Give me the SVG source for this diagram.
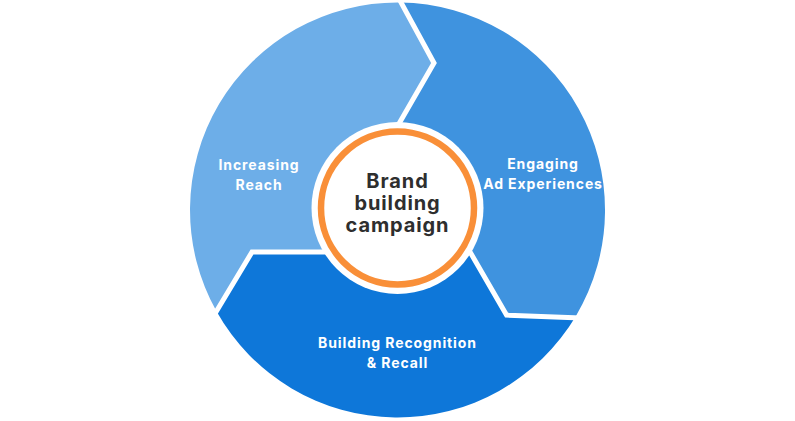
<svg xmlns="http://www.w3.org/2000/svg" width="795" height="421" viewBox="0 0 795 421">
<style>
.lbl{font-family:Inter,"Open Sans","Liberation Sans",sans-serif;font-weight:700;font-size:14px;letter-spacing:0.9px;fill:#ffffff;text-anchor:middle}
.ctr{font-family:Inter,"Open Sans","Liberation Sans",sans-serif;font-weight:700;font-size:20px;letter-spacing:0.9px;fill:#2e2e2e;text-anchor:middle}
.gap{fill:none;stroke:#ffffff;stroke-width:5;stroke-linejoin:miter;stroke-miterlimit:10}
</style>
<rect width="795" height="421" fill="#ffffff"/>
<g id="seg-reach">
<path d="M216.6,311.6 A207.5,207.5 0 0 1 400,2.5 L434,63 L374,167 L397.5,210 L372,252 L252,252 Z" fill="#6DAEE8"/>
<text class="lbl" x="259" y="169.5">Increasing</text>
<text class="lbl" x="259" y="189.5">Reach</text>
</g>
<g id="seg-engaging">
<path d="M400,2.5 A207.5,207.5 0 0 1 575.95,315.9 L506.55,315.1 L446.5,211.2 L397.5,210 L374,167 L434,63 Z" fill="#3F93DF"/>
<text class="lbl" x="543" y="168.5">Engaging</text>
<text class="lbl" x="543" y="189">Ad Experiences</text>
</g>
<g id="seg-recall">
<path d="M575.95,315.9 A207.5,207.5 0 0 1 216.6,311.6 L252,252 L372,252 L397.5,210 L446.5,211.2 L506.55,315.1 Z" fill="#0E77D9"/>
<text class="lbl" x="397.5" y="347.5">Building Recognition</text>
<text class="lbl" x="397.5" y="367.5">&amp; Recall</text>
</g>
<g id="connectors">
<polyline class="gap" points="398.6,-2 434,63 374,167"/>
<polyline class="gap" points="581,318 506.55,315.1 446.5,211.2"/>
<polyline class="gap" points="213,317 252,252 372,252"/>
</g>
<g id="center">
<circle cx="397.5" cy="208" r="86" fill="#ffffff"/>
<circle cx="397.5" cy="208" r="76.5" fill="#ffffff" stroke="#F98F38" stroke-width="6.5"/>
<text class="ctr" x="397.5" y="188">Brand</text>
<text class="ctr" x="397.5" y="210">building</text>
<text class="ctr" x="397.5" y="232">campaign</text>
</g>
</svg>
